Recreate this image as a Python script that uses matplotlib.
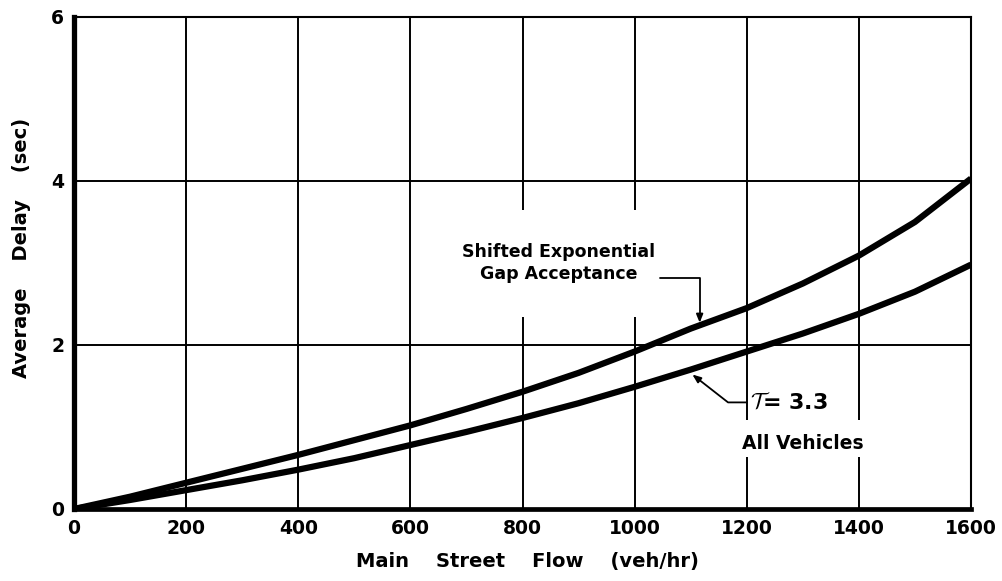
import matplotlib
matplotlib.use("Agg")
import matplotlib.pyplot as plt
from matplotlib.patches import Rectangle

# ---- data ----
flow = [0, 100, 200, 300, 400, 500, 600, 700, 800, 900, 1000, 1100, 1200, 1300, 1400, 1500, 1600]
delay_shifted_exp = [0, 0.15, 0.32, 0.49, 0.66, 0.84, 1.02, 1.22, 1.43, 1.66, 1.92, 2.20, 2.45, 2.75, 3.09, 3.50, 4.03]
delay_all_vehicles = [0, 0.11, 0.23, 0.35, 0.48, 0.62, 0.78, 0.94, 1.11, 1.29, 1.49, 1.70, 1.92, 2.14, 2.38, 2.65, 2.98]
x_ticks = [0, 200, 400, 600, 800, 1000, 1200, 1400, 1600]
x_tick_labels = ["0", "200", "400", "600", "800", "1000", "1200", "1400", "1600"]
y_ticks = [0, 2, 4, 6]
y_tick_labels = ["0", "2", "4", "6"]

plt.rcParams['font.family'] = ['DejaVu Sans']
plt.rcParams['font.weight'] = 'bold'
plt.rcParams['mathtext.fontset'] = 'cm'

fig = plt.figure(figsize=(10.02, 5.81), dpi=100)
ax = fig.add_axes([74/1002, 1 - 509/581, 897/1002, 492/581])

ax.set_xlim(0, 1600)
ax.set_ylim(0, 6)
ax.set_xticks(x_ticks)
ax.set_xticklabels(x_tick_labels, fontsize=13.5, fontweight='bold')
ax.set_yticks(y_ticks)
ax.set_yticklabels(y_tick_labels, fontsize=13.5, fontweight='bold')
ax.tick_params(length=0, pad=7)

ax.grid(True, color='black', linewidth=1.4, zorder=1)
ax.set_axisbelow(True)

for side, lw in [('left', 3.8), ('bottom', 3.4), ('top', 1.5), ('right', 1.5)]:
    ax.spines[side].set_linewidth(lw)
    ax.spines[side].set_color('black')

# white areas that interrupt grid lines behind the labels
ax.add_patch(Rectangle((671, 2.34), 450, 1.31, facecolor='white', edgecolor='none', zorder=1.5))
ax.add_patch(Rectangle((1179, 0.63), 250, 0.46, facecolor='white', edgecolor='none', zorder=1.5))

ax.plot(flow, delay_shifted_exp, color='black', linewidth=4.5, solid_capstyle='butt',
        solid_joinstyle='round', zorder=3)
ax.plot(flow, delay_all_vehicles, color='black', linewidth=4.5, solid_capstyle='butt',
        solid_joinstyle='round', zorder=3)

ax.text(865, 3.0, "Shifted Exponential\nGap Acceptance", ha='center', va='center',
        fontsize=12.5, fontweight='bold', linespacing=1.35, multialignment='center', zorder=4)
ax.annotate("", xy=(1116, 2.27), xytext=(1046, 2.82),
            arrowprops=dict(arrowstyle="-|>,head_length=0.5,head_width=0.2", color='black', lw=1.3,
                            shrinkA=0, shrinkB=0,
                            connectionstyle="angle,angleA=0,angleB=90,rad=0"), zorder=4)

ax.text(1206, 1.30, r"$\mathcal{T}$= 3.3", ha='left', va='center', fontsize=16, fontweight='bold', zorder=4)
ax.text(1192, 0.80, "All Vehicles", ha='left', va='center', fontsize=13.5, fontweight='bold', zorder=4)
ax.annotate("", xy=(1103, 1.64), xytext=(1200, 1.30),
            arrowprops=dict(arrowstyle="-|>,head_length=0.5,head_width=0.2", color='black', lw=1.3,
                            shrinkA=0, shrinkB=0,
                            connectionstyle="angle,angleA=0,angleB=-38,rad=0"), zorder=4)

ax.set_xlabel("Main    Street    Flow    (veh/hr)", fontsize=14, fontweight='bold')
ax.xaxis.set_label_coords(0.506, -0.106)
ax.xaxis.label.set_va('center')
ax.set_ylabel("Average    Delay    (sec)", fontsize=14, fontweight='bold')
ax.yaxis.set_label_coords(-0.058, 0.53)
ax.yaxis.label.set_va('center')

fig.savefig("out.png", dpi=100)
